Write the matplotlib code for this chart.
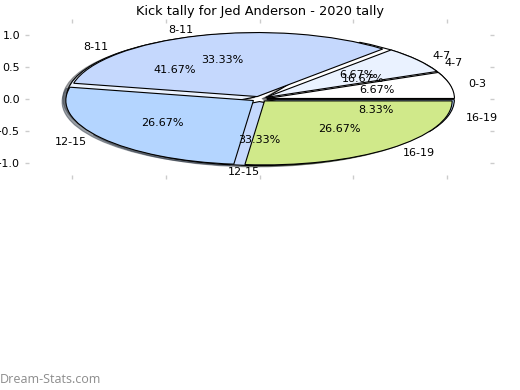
import matplotlib
matplotlib.use("Agg")
import matplotlib.pyplot as plt

title = "Kick tally for Jed Anderson - 2020 tally"
watermark = "Dream-Stats.com"

# first series (drawn on top)
cats_a = ['0-3', '4-7', '8-11', '12-15', '16-19']
kicks_a = [1, 1, 5, 4, 4]
# second series (drawn underneath)
cats_b = ['4-7', '8-11', '12-15', '16-19']
kicks_b = [2, 5, 4, 1]

colors = ['#ffffff', '#eaf2ff', '#c5d8fd', '#b4d5ff', '#d0e98a']
explode_amt = 0.04

fig = plt.figure(figsize=(5.2, 3.9), dpi=100)
ax = fig.add_axes([25/520, 1-179/390, 469/520, 160/390])

wp = dict(edgecolor='black', linewidth=0.8)
tp = dict(fontsize=8)
shadow = {'ox': -0.0144, 'oy': -0.0144}

_, texts_b, _ = ax.pie(kicks_b, labels=cats_b, colors=colors[:len(kicks_b)],
                       explode=[explode_amt]*len(kicks_b), autopct='%.2f%%',
                       shadow=shadow, startangle=0, wedgeprops=wp,
                       textprops=tp, frame=True)
ax.pie(kicks_a, labels=cats_a, colors=colors,
       explode=[explode_amt]*len(kicks_a), autopct='%.2f%%',
       shadow=shadow, startangle=0, wedgeprops=wp, textprops=tp, frame=True)

# the label straight below the centre sits to the left of it
texts_b[cats_b.index('12-15')].set_ha('right')

ax.set_aspect('auto')
ax.set_xlim(-1.25, 1.25)
ax.set_ylim(-1.25, 1.25)
for s in ax.spines.values():
    s.set_visible(False)
ax.set_xticks([-1.0, -0.5, 0.0, 0.5, 1.0])
ax.set_yticks([-1.0, -0.5, 0.0, 0.5, 1.0])
ax.tick_params(axis='both', direction='in', length=3, width=1, color='#cccccc',
               labelsize=8, top=True, right=True, bottom=True, left=True,
               labelbottom=False, labelleft=True)
ax.set_title(title, fontsize=9.3, pad=3)

fig.text(0.0, 0.01, watermark, fontsize=9, color='#8c8c8c',
         family='Open Sans', ha='left', va='bottom')

fig.savefig('out.png', dpi=100)
